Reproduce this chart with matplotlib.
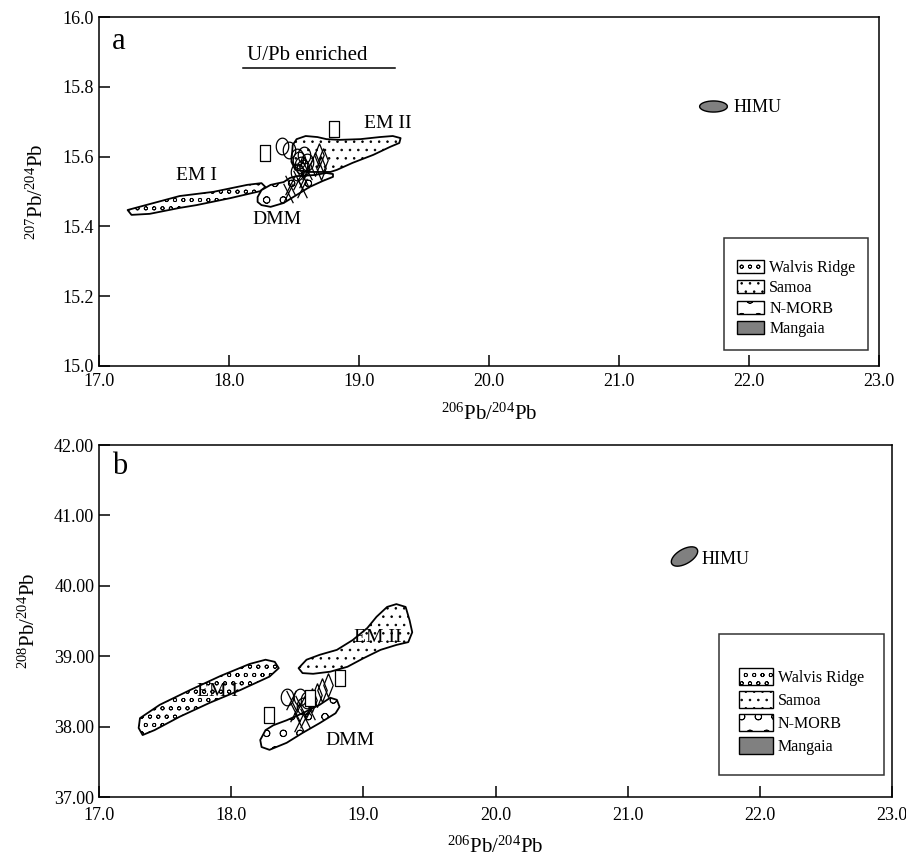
#Pb isotope diagrams (a) 207Pb/204Pb and (b) 208Pb/204Pb vs 206Pb/204Pb
import numpy as np
import matplotlib
matplotlib.use('Agg')
import matplotlib.pyplot as plt
from matplotlib.patches import Polygon, Patch
from matplotlib.path import Path

plt.rcParams['font.family'] = ['Liberation Serif', 'DejaVu Serif']
plt.rcParams['mathtext.fontset'] = 'custom'
plt.rcParams['mathtext.rm'] = 'Liberation Serif'
plt.rcParams['mathtext.it'] = 'Liberation Serif:italic'
plt.rcParams['hatch.linewidth'] = 0.6

#---------------- panel a data ----------------
em1_a_x = [17.22, 17.39, 17.62, 17.88, 18.14, 18.25, 18.28, 18.24, 18.01, 17.75, 17.62, 17.39, 17.25]
em1_a_y = [15.447, 15.464, 15.487, 15.499, 15.519, 15.524, 15.513, 15.501, 15.481, 15.461, 15.453, 15.436, 15.433]
em2_a_x = [18.49, 18.52, 18.59, 18.68, 18.75, 18.85, 19.01, 19.16, 19.26, 19.32, 19.31, 19.24, 19.11, 18.95, 18.83, 18.78, 18.62, 18.51, 18.48]
em2_a_y = [15.633, 15.650, 15.659, 15.656, 15.650, 15.648, 15.650, 15.656, 15.659, 15.653, 15.639, 15.628, 15.605, 15.582, 15.562, 15.556, 15.556, 15.562, 15.585]
dmm_a_x = [18.22, 18.25, 18.32, 18.42, 18.47, 18.52, 18.65, 18.75, 18.80, 18.80, 18.72, 18.62, 18.52, 18.42, 18.32, 18.25, 18.22]
dmm_a_y = [15.484, 15.504, 15.519, 15.527, 15.539, 15.544, 15.547, 15.553, 15.550, 15.542, 15.530, 15.513, 15.490, 15.467, 15.456, 15.461, 15.470]
himu_a_x = [21.72]
himu_a_y = [15.745]

sq_a_x = [18.28, 18.81]
sq_a_y = [15.61, 15.68]
circ_a_x = [18.41, 18.46, 18.52, 18.54, 18.55, 18.57, 18.58, 18.52, 18.60]
circ_a_y = [15.630, 15.619, 15.599, 15.590, 15.576, 15.567, 15.605, 15.556, 15.585]
dia_a_x = [18.69, 18.72, 18.71, 18.66]
dia_a_y = [15.605, 15.590, 15.567, 15.580]
x_a_x = [18.47, 18.53, 18.58, 18.56, 18.45, 18.60]
x_a_y = [15.519, 15.533, 15.539, 15.510, 15.496, 15.562]

#---------------- panel b data ----------------
em1_b_x = [17.31, 17.46, 17.69, 17.92, 18.14, 18.26, 18.33, 18.36, 18.29, 18.07, 17.84, 17.61, 17.42, 17.33, 17.30]
em1_b_y = [38.12, 38.31, 38.52, 38.72, 38.89, 38.95, 38.92, 38.83, 38.71, 38.52, 38.34, 38.14, 37.95, 37.88, 37.98]
em2_b_x = [18.51, 18.57, 18.67, 18.80, 18.92, 19.03, 19.10, 19.18, 19.25, 19.32, 19.35, 19.37, 19.34, 19.25, 19.13, 19.00, 18.88, 18.75, 18.62, 18.54]
em2_b_y = [38.83, 38.95, 39.02, 39.09, 39.23, 39.40, 39.56, 39.70, 39.74, 39.70, 39.51, 39.34, 39.20, 39.16, 39.09, 38.97, 38.85, 38.78, 38.75, 38.76]
dmm_b_x = [18.22, 18.26, 18.32, 18.42, 18.54, 18.67, 18.75, 18.80, 18.82, 18.79, 18.67, 18.54, 18.42, 18.29, 18.23]
dmm_b_y = [37.81, 37.95, 38.02, 38.09, 38.19, 38.31, 38.41, 38.38, 38.28, 38.19, 38.05, 37.91, 37.77, 37.67, 37.71]
himu_b_x = [21.43]
himu_b_y = [40.42]

sq_b_x = [18.29, 18.82, 18.60]
sq_b_y = [38.17, 38.69, 38.40]
circ_b_x = [18.42, 18.52, 18.57, 18.54]
circ_b_y = [38.42, 38.42, 38.38, 38.29]
dia_b_x = [18.69, 18.73, 18.65, 18.61]
dia_b_y = [38.52, 38.59, 38.45, 38.38]
x_b_x = [18.52, 18.48, 18.56, 18.51, 18.60, 18.45]
x_b_y = [38.31, 38.21, 38.12, 38.07, 38.24, 38.38]

legend_labels = ['Walvis Ridge', 'Samoa', 'N-MORB', 'Mangaia']
hatches = ['oo', '..', 'o', None]

#marker shapes
t = np.linspace(0, 2*np.pi, 40)
ell_marker = list(zip(0.75*np.cos(t), np.sin(t)))
rect_marker = [(-0.7, -1), (0.7, -1), (0.7, 1), (-0.7, 1), (-0.7, -1)]
dia_marker = [(0, 1), (0.4, 0), (0, -1), (-0.4, 0), (0, 1)]
x_marker = Path([(-0.5, -1), (0.5, 1), (-0.5, 1), (0.5, -1)],
                [Path.MOVETO, Path.LINETO, Path.MOVETO, Path.LINETO])
himu_flat = list(zip(np.cos(t), 0.4*np.sin(t)))
ang = np.deg2rad(30)
himu_tilt = list(zip(np.cos(t)*np.cos(ang) - 0.5*np.sin(t)*np.sin(ang),
                     np.cos(t)*np.sin(ang) + 0.5*np.sin(t)*np.cos(ang)))

def field(ax, xs, ys, hatch):
    ax.add_patch(Polygon(np.column_stack([xs, ys]), closed=True, facecolor='white',
                         edgecolor='black', hatch=hatch, lw=1.3, joinstyle='round'))

def samples(ax, sx, sy, cx, cy, dx, dy, xx, xy):
    ax.plot(xx, xy, linestyle='none', marker=x_marker, ms=14, color='black', mew=0.9)
    ax.plot(cx, cy, linestyle='none', marker=ell_marker, ms=12, mfc='none', mec='black', mew=0.9)
    ax.plot(dx, dy, linestyle='none', marker=dia_marker, ms=17, mfc='none', mec='black', mew=0.9)
    ax.plot(sx, sy, linestyle='none', marker=rect_marker, ms=11, mfc='white', mec='black', mew=0.9)

def style(ax):
    ax.set_xlim(17, 23)
    ax.set_xticks(np.arange(17, 23.1, 1.0))
    ax.xaxis.set_major_formatter(matplotlib.ticker.FormatStrFormatter('%.1f'))
    ax.tick_params(direction='in', length=8, width=1.1, labelsize=13)
    for s in ax.spines.values():
        s.set_linewidth(1.1)

def add_legend(ax, anchor, hl, hh, ls, bp, tf):
    handles = []
    for h in hatches:
        if h is None:
            handles.append(Patch(facecolor='#808080', edgecolor='black', lw=1.0))
        else:
            handles.append(Patch(facecolor='white', edgecolor='black', hatch=h, lw=1.0))
    leg = ax.legend(handles, legend_labels, loc='lower right', bbox_to_anchor=anchor,
                    frameon=True, fancybox=False, edgecolor='black', fontsize=11.5,
                    handlelength=hl, handleheight=hh, labelspacing=ls, borderpad=bp,
                    handletextpad=0.3, borderaxespad=0, title=' ', title_fontsize=tf)
    leg.get_frame().set_linewidth(1.1)

fig = plt.figure(figsize=(9.06, 8.57), dpi=100)
ax1 = fig.add_axes([99/906, 1-366/857, 780/906, 349/857])
ax2 = fig.add_axes([99/906, 1-797/857, 793/906, 352/857])

#panel a
field(ax1, em1_a_x, em1_a_y, hatches[0])
field(ax1, em2_a_x, em2_a_y, hatches[1])
field(ax1, dmm_a_x, dmm_a_y, hatches[2])
ax1.plot(himu_a_x, himu_a_y, linestyle='none', marker=himu_flat, ms=20, mfc='#808080', mec='black', mew=1.0)
samples(ax1, sq_a_x, sq_a_y, circ_a_x, circ_a_y, dia_a_x, dia_a_y, x_a_x, x_a_y)
ax1.text(17.1, 15.93, 'a', fontsize=22, va='center')
ax1.text(18.6, 15.89, 'U/Pb enriched', fontsize=15, ha='center', va='center')
ax1.plot([18.11, 19.28], [15.854, 15.854], color='black', lw=1.1)
ax1.text(21.88, 15.74, 'HIMU', fontsize=13, va='center')
ax1.text(17.75, 15.545, 'EM I', fontsize=14, ha='center', va='center')
ax1.text(19.22, 15.696, 'EM II', fontsize=14, ha='center', va='center')
ax1.text(18.37, 15.42, 'DMM', fontsize=14, ha='center', va='center')
style(ax1)
ax1.set_ylim(15.0, 16.0)
ax1.set_yticks(np.arange(15.0, 16.01, 0.2))
ax1.yaxis.set_major_formatter(matplotlib.ticker.FormatStrFormatter('%.1f'))
ax1.tick_params(axis='x', pad=5)
ax1.set_xlabel(r'$^{206}$Pb/$^{204}$Pb', fontsize=15, labelpad=10)
ax1.set_ylabel(r'$^{207}$Pb/$^{204}$Pb', fontsize=15, labelpad=11)
add_legend(ax1, (0.986, 0.046), 1.7, 0.85, 0.28, 0.8, 5)

#panel b
field(ax2, em1_b_x, em1_b_y, hatches[0])
field(ax2, em2_b_x, em2_b_y, hatches[1])
field(ax2, dmm_b_x, dmm_b_y, hatches[2])
ax2.plot(himu_b_x, himu_b_y, linestyle='none', marker=himu_tilt, ms=19, mfc='#808080', mec='black', mew=1.0)
samples(ax2, sq_b_x, sq_b_y, circ_b_x, circ_b_y, dia_b_x, dia_b_y, x_b_x, x_b_y)
ax2.text(17.1, 41.7, 'b', fontsize=22, va='center')
ax2.text(21.56, 40.37, 'HIMU', fontsize=13, va='center')
ax2.text(17.9, 38.5, 'EM I', fontsize=14, ha='center', va='center')
ax2.text(19.11, 39.27, 'EM II', fontsize=14, ha='center', va='center')
ax2.text(18.9, 37.8, 'DMM', fontsize=14, ha='center', va='center')
style(ax2)
ax2.set_ylim(37.0, 42.0)
ax2.set_yticks(np.arange(37.0, 42.01, 1.0))
ax2.yaxis.set_major_formatter(matplotlib.ticker.FormatStrFormatter('%.2f'))
ax2.tick_params(axis='x', pad=7)
ax2.set_xlabel(r'$^{206}$Pb/$^{204}$Pb', fontsize=15, labelpad=9)
ax2.set_ylabel(r'$^{208}$Pb/$^{204}$Pb', fontsize=15, labelpad=10)
add_legend(ax2, (0.990, 0.0625), 2.15, 1.25, 0.32, 1.25, 7)

fig.savefig('out.png', dpi=100)
